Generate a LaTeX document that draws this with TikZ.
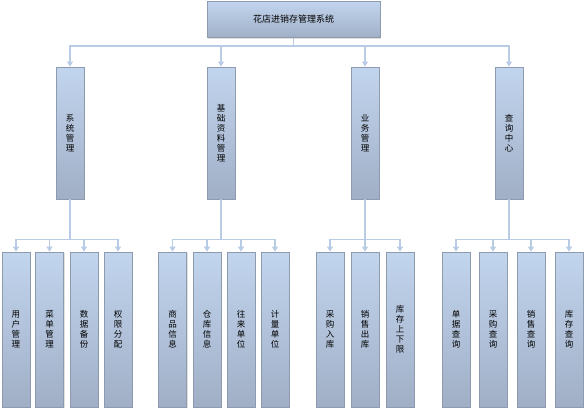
\documentclass[tikz,border=0pt]{standalone}
\usepackage{fontspec}
\setmainfont{Noto Sans CJK SC}
\usetikzlibrary{arrows.meta,shadows}
\tikzset{
  box/.style={draw=boxline, line width=0.8pt, top color=boxtop, bottom color=boxbot,
    inner sep=0pt, align=center, text=black,
    general shadow={shadow xshift=1pt, shadow yshift=-1pt, fill=black!12},
    font=\fontsize{8.5}{10}\selectfont},
  lvtwo/.style={box, minimum width=28pt, minimum height=132pt},
  lvthree/.style={box, minimum width=28pt, minimum height=155pt},
  conn/.style={draw=connc, line width=1.6pt, -{Triangle[width=6pt,length=5pt]}},
}
\definecolor{boxtop}{HTML}{C2D5EE}
\definecolor{boxbot}{HTML}{A0AFC6}
\definecolor{boxline}{HTML}{8E9BAE}
\definecolor{connc}{HTML}{B8CCE6}
\begin{document}
\begin{tikzpicture}[x=1pt,y=-1pt]
\useasboundingbox (0,0) rectangle (586,410);
\node[box, minimum width=173pt, minimum height=36pt, font=\fontsize{9}{10}\selectfont] (top) at (293.5,19.5) {花店进销存管理系统};

\node[lvtwo] (a) at (70,133) {系\\统\\管\\理};
\node[lvtwo] (b) at (221,133) {基\\础\\资\\料\\管\\理};
\node[lvtwo] (c) at (365,133) {业\\务\\管\\理};
\node[lvtwo] (d) at (509,133) {查\\询\\中\\心};

\foreach \n in {a,b,c,d}
  \draw[conn] (top.south) -- ++(0,8) -| (\n.north);

\node[lvthree] (a1) at (16,329.5) {用\\户\\管\\理};
\node[lvthree] (a2) at (49.5,329.5) {菜\\单\\管\\理};
\node[lvthree] (a3) at (84,329.5) {数\\据\\备\\份};
\node[lvthree] (a4) at (118,329.5) {权\\限\\分\\配};

\node[lvthree] (b1) at (172.5,329.5) {商\\品\\信\\息};
\node[lvthree] (b2) at (207,329.5) {仓\\库\\信\\息};
\node[lvthree] (b3) at (241,329.5) {往\\来\\单\\位};
\node[lvthree] (b4) at (275,329.5) {计\\量\\单\\位};

\node[lvthree] (c1) at (330,329.5) {采\\购\\入\\库};
\node[lvthree] (c2) at (365,329.5) {销\\售\\出\\库};
\node[lvthree] (c3) at (400,329.5) {库\\存\\上\\下\\限};

\node[lvthree] (d1) at (456,329.5) {单\\据\\查\\询};
\node[lvthree] (d2) at (493,329.5) {采\\购\\查\\询};
\node[lvthree] (d3) at (531,329.5) {销\\售\\查\\询};
\node[lvthree] (d4) at (569,329.5) {库\\存\\查\\询};

\foreach \p/\cs in {a/{a1,a2,a3,a4}, b/{b1,b2,b3,b4}, c/{c1,c2,c3}, d/{d1,d2,d3,d4}}
  \foreach \k in \cs
    \draw[conn] (\p.south) -- ++(0,40) -| (\k.north);
\end{tikzpicture}
\end{document}
